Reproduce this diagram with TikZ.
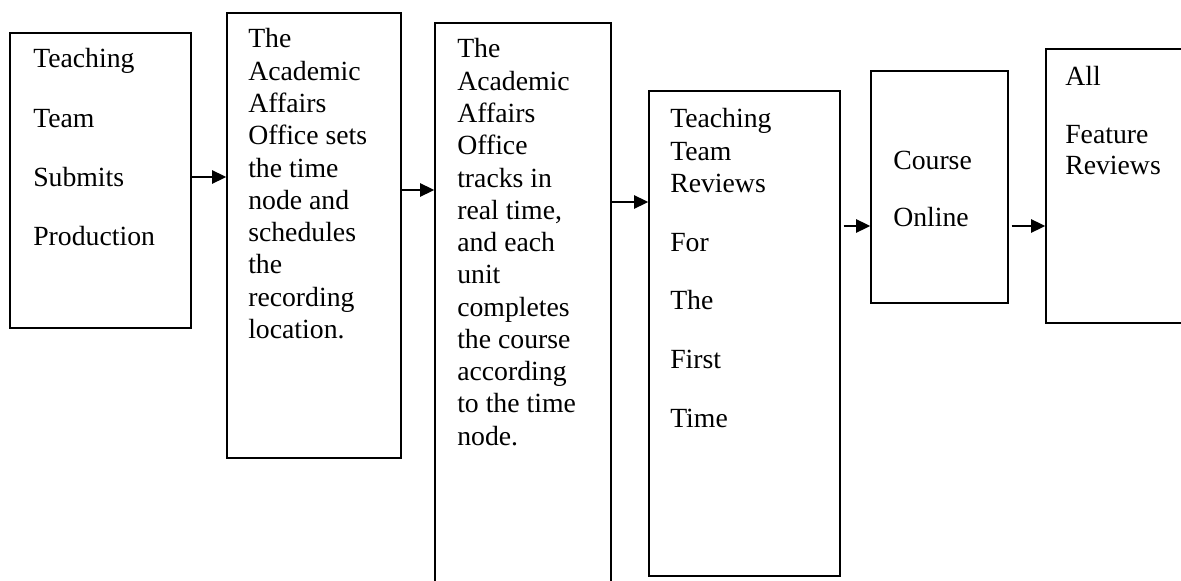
\documentclass[tikz,border=0pt]{standalone}
\usepackage{fontspec}
\setmainfont{Liberation Serif}
\usetikzlibrary{fit,arrows.meta}
\begin{document}
\begin{tikzpicture}[x=0.75pt,y=-0.75pt,
  box/.style={draw,line width=1.3pt,inner sep=0pt},
  txt/.style={anchor=base west,inner sep=0pt,font=\fontsize{20.8}{24.2}\selectfont},
  arr/.style={line width=1.3pt,-{Triangle[length=10.5pt,width=10pt]}}]
\useasboundingbox (0,0) rectangle (1181,581);
\clip (0,0) rectangle (1181,581);
% boxes
\node[box,fit={(10,33)(191,328)}] (b1) {};
\node[box,fit={(227,13)(401,458)}] (b2) {};
\node[box,fit={(435,23)(611,600)}] (b3) {};
\node[box,fit={(649,91)(840,576)}] (b4) {};
\node[box,fit={(871,71)(1008,303)}] (b5) {};
\node[box,fit={(1046,49)(1200,323)}] (b6) {};
% texts
\node[txt] (t1) at (33,68) {\begin{tabular}[t]{@{}l@{}}Teaching\\[20.3pt]Team\\[20.3pt]Submits\\[20.3pt]Production\end{tabular}};
\node[txt] (t2) at (248,48) {\begin{tabular}[t]{@{}l@{}}The\\Academic\\Affairs\\Office sets\\the time\\node and\\schedules\\the\\recording\\location.\end{tabular}};
\node[txt] (t3) at (457,58) {\begin{tabular}[t]{@{}l@{}}The\\Academic\\Affairs\\Office\\tracks in\\real time,\\and each\\unit\\completes\\the course\\according\\to the time\\node.\end{tabular}};
\node[txt] (t4) at (670,128) {\begin{tabular}[t]{@{}l@{}}Teaching\\Team\\Reviews\\[19.8pt]For\\[19.8pt]The\\[19.8pt]First\\[19.8pt]Time\end{tabular}};
\node[txt] (t5) at (893,170) {\begin{tabular}[t]{@{}l@{}}Course\\[18.5pt]Online\end{tabular}};
\node[txt] (t6) at (1065,86) {\begin{tabular}[t]{@{}l@{}}All\\[19.3pt]Feature\\[-1.5pt]Reviews\end{tabular}};
% arrows
\draw[arr] (b1.east|-0,177) -- (b2.west|-0,177);
\draw[arr] (b2.east|-0,190) -- (b3.west|-0,190);
\draw[arr] (b3.east|-0,202) -- (b4.west|-0,202);
\draw[arr,shorten <=2pt] (b4.east|-0,226) -- (b5.west|-0,226);
\draw[arr,shorten <=2pt] (b5.east|-0,226) -- (b6.west|-0,226);
\end{tikzpicture}
\end{document}
